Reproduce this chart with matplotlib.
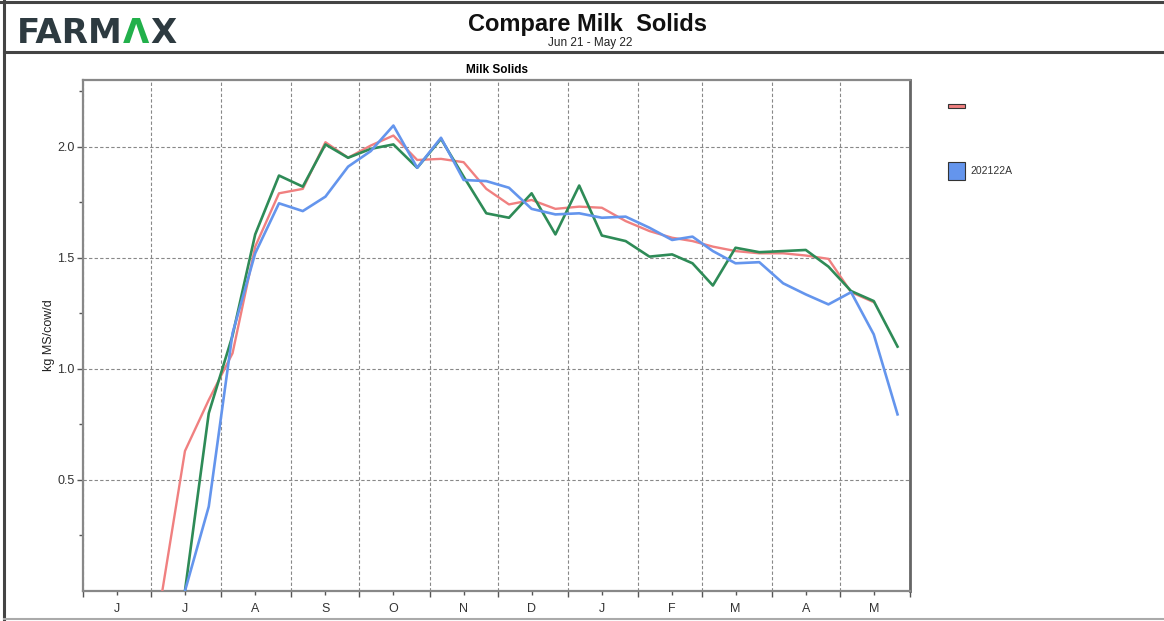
import numpy as np
import pandas as pd
import matplotlib
matplotlib.use("Agg")
import matplotlib.pyplot as plt
import matplotlib.dates as mdates
from matplotlib.lines import Line2D
from matplotlib.patches import Rectangle

plt.rcParams['font.family'] = ['Liberation Sans', 'DejaVu Sans']

nan = np.nan

# 10-day periods, Jul 21 - May 22 (values plotted at the middle of each period)
months = pd.date_range("2021-07-01", "2022-05-01", freq="MS")
period_starts = [m + pd.Timedelta(days=d) for m in months for d in (0, 10, 20)]
period_ends = period_starts[1:] + [pd.Timestamp("2022-06-01")]
period_mid = [s + (e - s) / 2 for s, e in zip(period_starts, period_ends)]

red_vals = [0.00, 0.63, 0.86, 1.07, 1.55, 1.79, 1.81, 2.02, 1.95, 2.005, 2.05,
            1.94, 1.945, 1.93, 1.81, 1.74, 1.76, 1.72, 1.73, 1.725, 1.665,
            1.62, 1.59, 1.575, 1.55, 1.53, 1.52, 1.52, 1.51, 1.495, 1.345,
            1.30, nan]
blue_vals = [nan, 0.00, 0.38, 1.16, 1.52, 1.745, 1.71, 1.775, 1.91, 1.98, 2.095,
             1.905, 2.04, 1.85, 1.845, 1.815, 1.72, 1.695, 1.70, 1.68, 1.685,
             1.635, 1.58, 1.595, 1.53, 1.475, 1.48, 1.385, 1.335, 1.29, 1.345,
             1.155, 0.795]
green_vals = [nan, 0.00, 0.80, 1.15, 1.605, 1.87, 1.82, 2.01, 1.95, 1.99, 2.01,
              1.905, 2.035, 1.865, 1.70, 1.68, 1.79, 1.605, 1.825, 1.60, 1.575,
              1.505, 1.515, 1.475, 1.375, 1.545, 1.525, 1.53, 1.535, 1.46, 1.35,
              1.305, 1.10]

legend_label = "202122A"
month_letters = ["J", "J", "A", "S", "O", "N", "D", "J", "F", "M", "A", "M"]

W, H = 1164, 621
fig = plt.figure(figsize=(W / 100, H / 100), dpi=100)

def fx(px):
    return px / W

def fy(py):
    return 1 - py / H

# page frame
for (x0, y0, x1, y1, c, lw) in [(0, 1.5, W, 1.5, "#444444", 2.2),
                                 (4, 51.5, W, 51.5, "#444444", 2.2),
                                 (4, 1, 4, 619, "#444444", 2.2),
                                 (4, 619, W, 619, "#aaaaaa", 1.5)]:
    fig.add_artist(Line2D([fx(x0), fx(x1)], [fy(y0), fy(y1)], color=c, lw=lw))

# logo
fig.canvas.draw()
r = fig.canvas.get_renderer()
xpos = 17
for part, col in [("FARM", "#2D3A40"), ("Λ", "#22B04B"), ("X", "#2D3A40")]:
    t = fig.text(fx(xpos), fy(43), part, color=col, fontsize=24.5,
                 fontweight="bold", family="DejaVu Sans", va="baseline", ha="left")
    xpos += t.get_window_extent(renderer=r).width + 0.5

fig.text(fx(588), fy(24), "Compare Milk  Solids", fontsize=17, fontweight="bold",
         ha="center", va="center", color="#111111")
fig.text(fx(590), fy(43), "Jun 21 - May 22", fontsize=8.5, ha="center", va="center",
         color="#222222")

ax = fig.add_axes([fx(83), fy(591), fx(910) - fx(83), fy(80) - fy(591)])

ax.plot(period_mid, red_vals, color="#F08080", lw=1.7, zorder=3)
ax.plot(period_mid, green_vals, color="#2E8B57", lw=1.9, zorder=4)
ax.plot(period_mid, blue_vals, color="#6495ED", lw=1.9, zorder=5)

ax.set_xlim(pd.Timestamp("2021-06-01"), pd.Timestamp("2022-06-01"))
ax.set_ylim(0, 2.3)

ax.xaxis.set_major_locator(mdates.MonthLocator())
ax.xaxis.set_major_formatter(plt.NullFormatter())
ax.xaxis.set_minor_locator(mdates.MonthLocator(bymonthday=16))
ax.xaxis.set_minor_formatter(
    plt.FuncFormatter(lambda v, p: month_letters[(mdates.num2date(v).month - 6) % 12]))

ax.set_yticks([0.5, 1.0, 1.5, 2.0])
ax.set_yticklabels(["0.5", "1.0", "1.5", "2.0"])
ax.set_yticks([0.25, 0.75, 1.25, 1.75, 2.25], minor=True)

ax.tick_params(axis="x", which="major", length=4, width=1, color="#555555")
ax.tick_params(axis="x", which="minor", length=3, width=1, color="#555555",
               labelsize=9, labelcolor="#333333", pad=6)
ax.tick_params(axis="y", which="major", length=4, width=1, color="#555555",
               labelsize=9, labelcolor="#333333", pad=2)
ax.tick_params(axis="y", which="minor", length=3, width=1, color="#555555")

ax.grid(True, which="major", color="#888888", lw=0.8, linestyle=(0, (3, 2)))

for s in ax.spines.values():
    s.set_color("#888888")
    s.set_linewidth(1.6)
ax.spines["right"].set_color("#666666")
ax.spines["right"].set_linewidth(2)

ax.set_title("Milk Solids", fontsize=8.5, fontweight="bold", pad=5)
ax.set_ylabel("kg MS/cow/d", fontsize=9, color="#222222", labelpad=2)

# legend entries
fig.add_artist(Rectangle((fx(948), fy(108)), fx(965) - fx(948), fy(104) - fy(108),
                         facecolor="#F08080", edgecolor="#333333", lw=0.8,
                         transform=fig.transFigure))
fig.add_artist(Rectangle((fx(948), fy(180)), fx(965) - fx(948), fy(162) - fy(180),
                         facecolor="#6495ED", edgecolor="#333333", lw=0.8,
                         transform=fig.transFigure))
fig.text(fx(970), fy(171), legend_label, fontsize=7.5, color="#333333",
         ha="left", va="center")

fig.savefig("out.png", dpi=100)
